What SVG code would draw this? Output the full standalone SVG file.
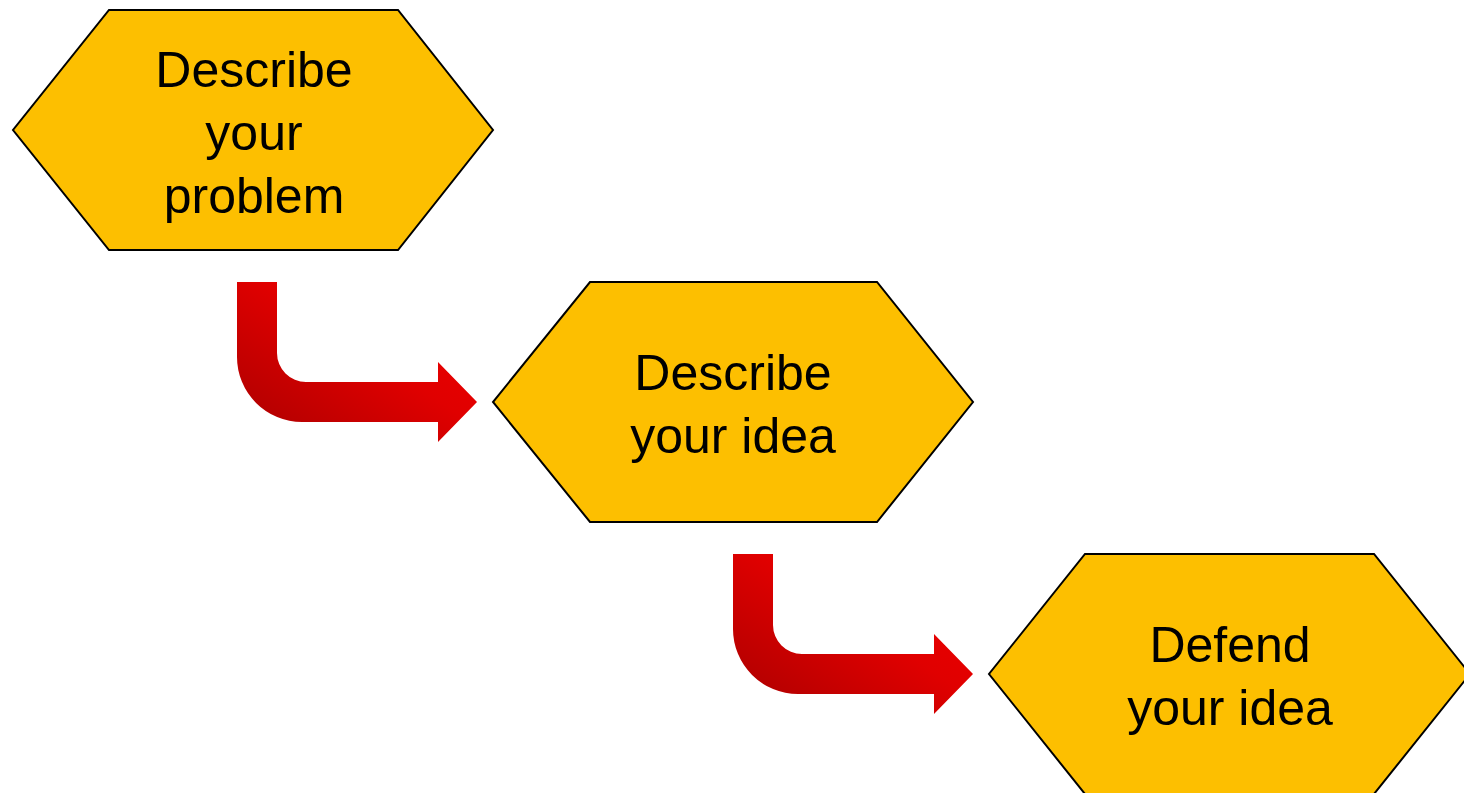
<svg xmlns="http://www.w3.org/2000/svg" width="1464" height="793" viewBox="0 0 1464 793">
<style>
.hex{fill:#FDBF00;stroke:#000;stroke-width:2;stroke-linejoin:miter}
.lbl{font-family:"Liberation Sans",Arial,sans-serif;font-size:50px;fill:#000;text-anchor:middle}
.arr{fill:url(#red)}
</style>
<defs>
<linearGradient id="red" x1="0" y1="1" x2="1" y2="0">
<stop offset="0" stop-color="#A80000"/>
<stop offset="0.55" stop-color="#E00000"/>
<stop offset="1" stop-color="#F20000"/>
</linearGradient>
</defs>
<rect width="1464" height="793" fill="#fff"/>
<g id="connectors">
<path class="arr" d="M237,282 H277 V353 A29,29 0 0 0 306,382 H438 V362 L477,402 L438,442 V422 H302 A65,65 0 0 1 237,357 Z"/>
<path class="arr" d="M733,554 H773 V625 A29,29 0 0 0 802,654 H934 V634 L973,674 L934,714 V694 H798 A65,65 0 0 1 733,629 Z"/>
</g>
<g id="node1">
<polygon class="hex" points="109,10 398,10 493,130 398,250 109,250 13,130"/>
<text class="lbl" x="254" y="87">Describe</text>
<text class="lbl" x="254" y="150">your</text>
<text class="lbl" x="254" y="213">problem</text>
</g>
<g id="node2">
<polygon class="hex" points="590,282 877,282 973,402 877,522 590,522 493,402"/>
<text class="lbl" x="733" y="390">Describe</text>
<text class="lbl" x="733" y="453">your idea</text>
</g>
<g id="node3">
<polygon class="hex" points="1085,554 1374,554 1470,674 1374,794 1085,794 989,674"/>
<text class="lbl" x="1230" y="662">Defend</text>
<text class="lbl" x="1230" y="725">your idea</text>
</g>
</svg>
